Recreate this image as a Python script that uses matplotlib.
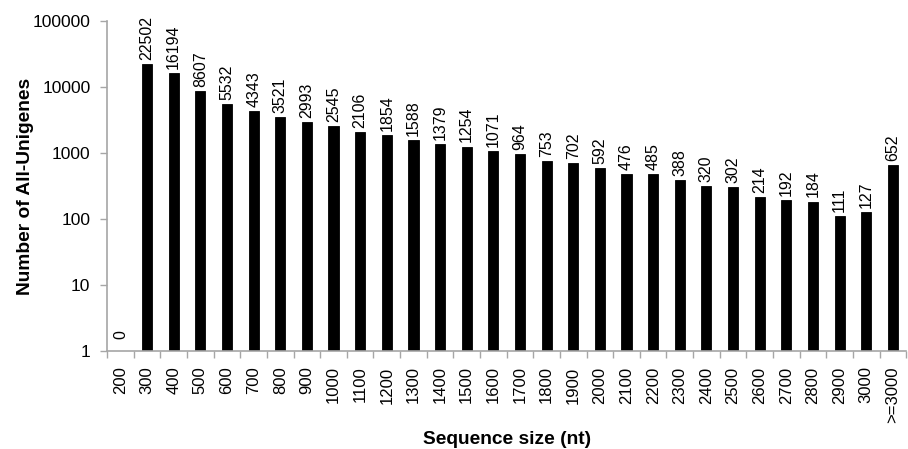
import numpy as np
import matplotlib
matplotlib.use("Agg")
import matplotlib.pyplot as plt

plt.rcParams['font.family'] = ['Liberation Sans', 'DejaVu Sans']

# Longitud de secuencia (nt) y numero de unigenes
tamanos = ['200', '300', '400', '500', '600', '700', '800', '900', '1000', '1100',
           '1200', '1300', '1400', '1500', '1600', '1700', '1800', '1900', '2000', '2100',
           '2200', '2300', '2400', '2500', '2600', '2700', '2800', '2900', '3000', '>=3000']
conteos = [0, 22502, 16194, 8607, 5532, 4343, 3521, 2993, 2545, 2106,
           1854, 1588, 1379, 1254, 1071, 964, 753, 702, 592, 476,
           485, 388, 320, 302, 214, 192, 184, 111, 127, 652]

gris = '#a6a6a6'

fig = plt.figure(figsize=(9.08, 4.49), dpi=100)
ax = fig.add_axes([0.118, 0.218, 0.880, 0.735])

x = np.arange(len(tamanos))
ax.bar(x, conteos, width=0.38, color='black', edgecolor='black', linewidth=0.6)
ax.set_yscale('log')
ax.set_ylim(1, 100000)
ax.set_xlim(-0.5, len(tamanos) - 0.5)

# etiquetas de valor encima de cada barra
for xi, v in zip(x, conteos):
    base = v if v > 0 else 1.3
    ax.annotate(str(v), (xi, base), xytext=(0, 3), textcoords='offset points',
                rotation=90, ha='center', va='bottom', fontsize=11.5)

ax.set_yticks([1, 10, 100, 1000, 10000, 100000])
ax.set_yticklabels(['1', '10', '100', '1000', '10000', '100000'])
ax.yaxis.set_minor_locator(matplotlib.ticker.NullLocator())
ax.set_xticks(x)
ax.set_xticklabels(tamanos, rotation=90, fontsize=12)
ax.tick_params(axis='x', length=0, pad=11)
ax.tick_params(axis='y', labelsize=12.5, length=5, color=gris, width=1, pad=7)

# marcas del eje x entre categorias
ax.set_xticks(np.arange(-0.5, len(tamanos), 1), minor=True)
ax.tick_params(axis='x', which='minor', length=5, color=gris, width=1)

for s in ['top', 'right']:
    ax.spines[s].set_visible(False)
for s in ['left', 'bottom']:
    ax.spines[s].set_color(gris)
    ax.spines[s].set_linewidth(1.2)

ax.set_ylabel('Number of All-Unigenes', fontsize=13.8, fontweight='bold', labelpad=-1)
ax.set_xlabel('Sequence size (nt)', fontsize=13.8, fontweight='bold', labelpad=6)

plt.savefig('out.png', dpi=100)
